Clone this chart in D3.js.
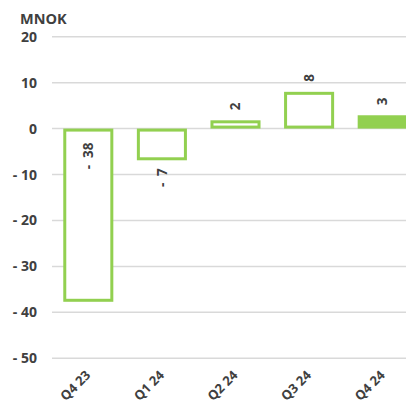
<!DOCTYPE html>
<html><head><meta charset="utf-8">
<script src="https://cdn.jsdelivr.net/npm/d3@7"></script>
<style>body{margin:0;background:#fff}svg{display:block}text{font-family:"Open Sans",sans-serif;font-weight:700;fill:#404040;white-space:pre}</style>
</head><body><svg id="c" width="406" height="405"></svg>
<script>
const categories = ["Q4 23","Q1 24","Q2 24","Q3 24","Q4 24"];
const values = [-37.7, -6.9, 1.8, 8.0, 2.9];
const filled = [false, false, false, false, true];
const yTicks = [20, 10, 0, -10, -20, -30, -40, -50];
const unitLabel = "MNOK";

const svg = d3.select("#c");
const green = "#92D050";
const x = d3.scaleBand().domain(categories).range([51.5, 419.5]).paddingInner(0.32).paddingOuter(0.16);
const y = d3.scaleLinear().domain([-50, 20]).range([358.3, 36.7]);
const fmt = d => d < 0 ? "- " + Math.abs(d) : String(d);
const fmtLabel = d => d < 0 ? "-\u2002" + Math.abs(d) : String(d);

// gridlines
svg.append("g").selectAll("line").data(yTicks).join("line")
  .attr("x1", 52).attr("x2", 420)
  .attr("y1", d => y(d)).attr("y2", d => y(d))
  .attr("stroke", "#d9d9d9").attr("stroke-width", 1.5);

// y axis labels
const yAxis = d3.axisLeft(y).tickValues(yTicks).tickFormat(fmt).tickSize(0).tickPadding(0);
const ga = svg.append("g").attr("transform", "translate(37,0)").call(yAxis);
ga.select(".domain").remove();
ga.selectAll("text").style("font-size", "14px").attr("fill", "#404040").style("font-family", "'Open Sans',sans-serif").style("font-weight", 700);

svg.append("text").attr("x", 20).attr("y", 24).style("font-size", "14.5px").text(unitLabel);

// bars (stroke drawn inside the value edges)
const data = categories.map((c, i) => ({c, v: values[i], f: filled[i]}));
svg.append("g").selectAll("rect").data(data).join("rect")
  .attr("x", d => x(d.c) + 1.5)
  .attr("y", d => Math.min(y(d.v), y(0)) + 1.5)
  .attr("width", x.bandwidth() - 3)
  .attr("height", d => Math.abs(y(d.v) - y(0)) - 3)
  .attr("fill", d => d.f ? green : "#fff")
  .attr("stroke", green).attr("stroke-width", 3);

// value labels (rotated)
svg.append("g").selectAll("text").data(data).join("text")
  .attr("transform", d => {
    const cx = x(d.c) + x.bandwidth() / 2;
    let py;
    if (d.v >= 0) py = y(d.v) - 10;
    else if (y(d.v) - y(0) > 100) py = y(0) + 14;
    else py = y(d.v) + 8;
    return `translate(${cx},${py}) rotate(-90)`;
  })
  .attr("text-anchor", d => d.v >= 0 ? "start" : "end")
  .attr("dy", "0.35em")
  .style("font-size", "13.5px")
  .text(d => fmtLabel(Math.round(d.v)));

// x labels
svg.append("g").selectAll("text").data(categories).join("text")
  .attr("transform", d => `translate(${x(d) + x.bandwidth() / 2 + 3},376) rotate(-45)`)
  .attr("text-anchor", "end")
  .style("font-size", "13px")
  .text(d => d);
</script></body></html>
